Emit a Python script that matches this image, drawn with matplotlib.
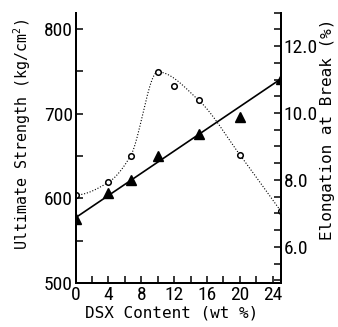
import numpy as np
import matplotlib
matplotlib.use("Agg")
import matplotlib.pyplot as plt
from matplotlib import font_manager as fm
from matplotlib.ticker import MultipleLocator

# look for a narrow / condensed face for the tick numbers
narrow = None
for f in fm.fontManager.ttflist:
    tag = (f.name + " " + f.fname).lower()
    if ("narrow" in tag or "condensed" in tag) and f.weight in (400, "normal") \
            and f.style == "normal":
        narrow = f
        if "liberation" in tag:
            break
if narrow is not None:
    plt.rcParams['font.family'] = [narrow.name, 'DejaVu Sans']
    plt.rcParams['font.stretch'] = narrow.stretch
    FS = 14
else:
    plt.rcParams['font.family'] = ['DejaVu Sans']
    FS = 10.5

# axis titles look monospaced in the reference
MONO = ['DejaVu Sans Mono', 'Liberation Mono']
LFS = 11.5

# tensile strength (left axis, filled triangles)
dsx_strength = [0, 4, 6.7, 10, 15, 20, 25]
strength = [576, 606, 622, 650, 676, 696, 741]

# straight fitted line
fit_x = [0, 25]
fit_y = [577, 741]

# elongation at break (right axis, open circles)
dsx_elong = [0, 4, 6.7, 10, 12, 15, 20, 25]
elongation = [7.55, 7.93, 8.72, 11.23, 10.8, 10.38, 8.75, 7.06]

# points the dotted guide curve passes through
curve_x = [0, 4, 6.7, 10, 15, 20, 25]
curve_y = [7.55, 7.93, 8.72, 11.23, 10.38, 8.75, 7.06]


def pchip(x, y, xs):
    # monotone cubic (Fritsch-Carlson) through the guide points
    x = np.asarray(x, float)
    y = np.asarray(y, float)
    h = np.diff(x)
    d = np.diff(y) / h
    n = len(x)
    m = np.zeros(n)
    for i in range(1, n - 1):
        if d[i - 1] * d[i] > 0:
            w1 = 2 * h[i] + h[i - 1]
            w2 = h[i] + 2 * h[i - 1]
            m[i] = (w1 + w2) / (w1 / d[i - 1] + w2 / d[i])
    m[0] = 0.0
    m[-1] = d[-1]
    out = []
    for t in xs:
        i = min(max(np.searchsorted(x, t) - 1, 0), n - 2)
        s = (t - x[i]) / h[i]
        h00 = 2 * s**3 - 3 * s**2 + 1
        h10 = s**3 - 2 * s**2 + s
        h01 = -2 * s**3 + 3 * s**2
        h11 = s**3 - s**2
        out.append(h00 * y[i] + h10 * h[i] * m[i] + h01 * y[i + 1] + h11 * h[i] * m[i + 1])
    return np.array(out)


fig = plt.figure(figsize=(3.38, 3.27), dpi=100)
ax = fig.add_axes([0.2234, 0.1346, 0.6080, 0.8266])
ax2 = ax.twinx()

ax.plot(fit_x, fit_y, color="black", linewidth=1.2)
ax.plot(dsx_strength, strength, linestyle="none", marker="^",
        markersize=6.5, color="black")

xs = np.linspace(curve_x[0], curve_x[-1], 300)
ax2.plot(xs, pchip(curve_x, curve_y, xs), color="black",
         linestyle=(0, (1, 1.6)), linewidth=0.8)
ax2.plot(dsx_elong, elongation, linestyle="none", marker="o",
         markersize=4, markerfacecolor="white", markeredgecolor="black",
         markeredgewidth=1.1)

ax.set_xlim(0, 25)
ax.set_ylim(500, 819)
ax2.set_ylim(4.92, 13.0)

ax.xaxis.set_major_locator(MultipleLocator(4))
ax.xaxis.set_minor_locator(MultipleLocator(2))
ax.yaxis.set_major_locator(MultipleLocator(100))
ax.yaxis.set_minor_locator(MultipleLocator(50))
ax2.yaxis.set_major_locator(MultipleLocator(2))
ax2.yaxis.set_minor_locator(MultipleLocator(0.5))
ax2.yaxis.set_major_formatter(lambda v, p: f"{v:.1f}")

for a in (ax, ax2):
    for s in a.spines.values():
        s.set_linewidth(1.4)
    a.spines["top"].set_visible(False)
    a.tick_params(which="both", direction="in", length=5, width=1.1,
                  labelsize=FS, pad=2)

ax.set_xlabel("DSX Content (wt %)", fontsize=LFS, family=MONO)
ax.set_ylabel("Ultimate Strength (kg/cm$^{2}$)", fontsize=LFS - 0.7, family=MONO)
ax2.set_ylabel("Elongation at Break (%)", fontsize=LFS, family=MONO,
               rotation=90)
ax.xaxis.set_label_coords(0.467, -0.085)
ax.yaxis.set_label_coords(-0.205, 0.55)
ax2.yaxis.set_label_coords(1.19, 0.57)

fig.savefig("out.png", dpi=100)
